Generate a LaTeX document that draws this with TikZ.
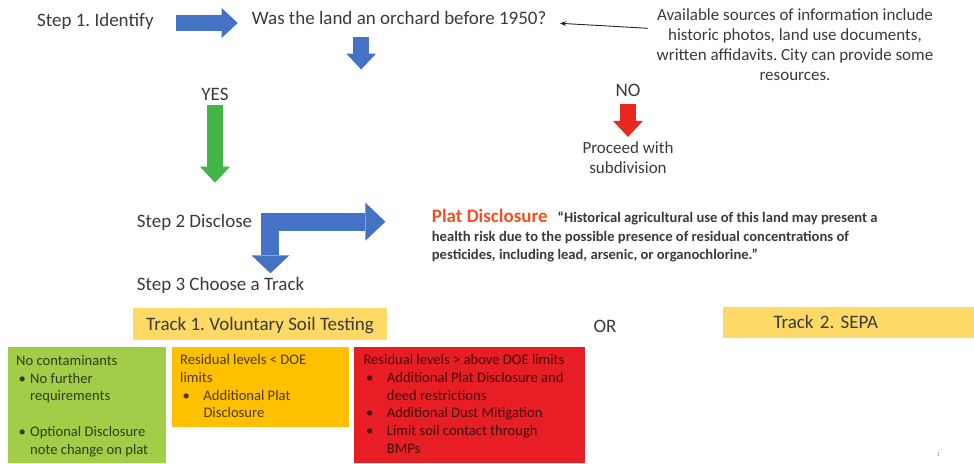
\documentclass[tikz,border=0pt]{standalone}
\usepackage{fontspec}
\setmainfont{Carlito}
\usepackage{xcolor}
\usetikzlibrary{arrows.meta, positioning}
\frenchspacing

\definecolor{inkgray}{HTML}{3A3A3A}
\definecolor{arrowblue}{HTML}{4472C4}
\definecolor{arrowgreen}{HTML}{44B549}
\definecolor{arrowred}{HTML}{E8271F}
\definecolor{trackyellow}{HTML}{FFD966}
\definecolor{boxgreen}{HTML}{A2CD48}
\definecolor{boxamber}{HTML}{FFC000}
\definecolor{boxred}{HTML}{E81E25}
\definecolor{platred}{HTML}{F25022}

\newcommand{\largetxt}{\fontsize{19pt}{23pt}\selectfont}
\newcommand{\notetxt}{\fontsize{17pt}{20pt}\selectfont}
\newcommand{\boxtxt}{\fontsize{14.6pt}{17.7pt}\selectfont}
\newcommand{\bitem}[1]{\hspace*{2.5pt}\makebox[#1][l]{\textbullet}}

\tikzset{
    x=1pt, y=-1pt, % one unit is one pixel, y runs down
    steptext/.style={font=\largetxt, text=inkgray, inner sep=0pt, text height=16.5pt, text depth=4.5pt},
    notetext/.style={font=\notetxt, text=inkgray, align=center, inner sep=0pt},
    trackbox/.style={fill=trackyellow, font=\largetxt, text=inkgray, minimum height=31.7pt, text height=16.5pt, text depth=4.5pt}, % yellow track headers
    area/.style={anchor=north west, inner sep=0pt}, % coloured result boxes
    areatext/.style={font=\boxtxt, align=left, inner sep=0pt},
    fatarrow/.style={draw=#1, line width=15.5pt, -{Triangle[length=16pt, width=30pt, line width=0pt]}}, % block arrows
    bentarrow/.style={draw=arrowblue, line width=18pt, {Triangle[length=20pt, width=38pt, line width=0pt]}-{Triangle[length=18pt, width=38pt, line width=0pt]}},
}
\tikzstyle{note} = [draw=black!85, line width=0.9pt, -{Stealth[length=6pt, width=5pt]}]

\begin{document}
\begin{tikzpicture}
    \useasboundingbox (0,0) rectangle (974,463);

    % step 1
    \node[steptext, anchor=west] (step1) at (37,21) {Step 1. Identify};
    \node[steptext, anchor=west] (question) at (251.7,18.5) {Was the land an orchard before 1950?};
    \node[notetext] (sources) at (795,45) {Available sources of information include\\historic photos, land use documents,\\written affidavits. City can provide some\\resources.};

    \draw[fatarrow=arrowblue] ([xshift=22pt,yshift=-2pt]step1.east) -- ([xshift=-14pt,yshift=-4.5pt]question.west);
    \draw[fatarrow=arrowblue] ([xshift=-38pt,yshift=-7.7pt]question.south) -- ++(0,32.6);
    \draw[note] ([xshift=-8.7pt,yshift=16.7pt]sources.west) -- ([xshift=13.4pt,yshift=-4.8pt]question.east);

    % answers
    \node[steptext] (yes) at (215,94) {YES};
    \node[steptext] (no) at (628,90) {NO};
    \node[notetext] (proceed) [below=41pt of no] {Proceed with\\subdivision};

    \draw[fatarrow=arrowgreen] (yes.south) -- ++(0,78);
    \draw[fatarrow=arrowred] ([yshift=-2.8pt]no.south) -- ++(0,33.4);

    % steps 2 and 3
    \node[steptext, anchor=west] (step2) at (136.7,221.7) {Step 2 Disclose};
    \node[steptext, anchor=west] (step3) at (136.7,284) {Step 3 Choose a Track};
    \node[areatext, font=\bfseries\fontsize{14.6pt}{17.8pt}\selectfont, text=inkgray, anchor=west] (plat) at (431.7,235.4)
        {{\fontsize{19pt}{17.8pt}\selectfont\color{platred}Plat Disclosure}\hspace{10pt}“Historical agricultural use of this land may present a\\[2pt]health risk due to the possible presence of residual concentrations of\\pesticides, including lead, arsenic, or organochlorine.”};

    \coordinate (bend) at ([xshift=18pt]step2.east);
    \draw[bentarrow] ([xshift=133pt]step2.east) -- (bend) -- (bend |- step3.north);

    % tracks
    \node[trackbox, minimum width=253.4pt] (track1) at (260,324) {Track 1. Voluntary Soil Testing};
    \node[steptext] (or) at (605,326.7) {OR};
    \node[trackbox, anchor=west, minimum width=251.3pt, text width=251.3pt, inner xsep=0pt, align=left] (track2) at (722.7,322.5) {\hspace*{50.6pt}Track 2. SEPA};

    \node[area, fill=boxgreen, minimum width=158.7pt, minimum height=116.3pt] (nobox) at (7.3,346.7) {};
    \node[area, fill=boxamber, minimum width=176.6pt, minimum height=80pt] (lowbox) at (171.7,346.7) {};
    \node[area, fill=boxred, minimum width=231pt, minimum height=116.3pt] (highbox) at (353.3,346.7) {};

    \node[areatext, text=black!70!boxgreen] (nolist) [below right=8.6pt and 8.7pt of nobox.north west]
        {No contaminants\\\bitem{11.5pt}No further\\\hspace*{14pt}requirements\\[17.7pt]\bitem{11.5pt}Optional Disclosure\\\hspace*{14pt}note change on plat};
    \node[areatext, text=black!70!boxamber] (lowlist) [below right=7.8pt and 8.3pt of lowbox.north west]
        {Residual levels < DOE\\limits\\\bitem{20.8pt}Additional Plat\\\hspace*{23.3pt}Disclosure};
    \node[areatext, text=black!70!boxred] (highlist) [below right=7.8pt and 10pt of highbox.north west]
        {Residual levels > above DOE limits\\\bitem{20.9pt}Additional Plat Disclosure and\\\hspace*{23.4pt}deed restrictions\\\bitem{20.9pt}Additional Dust Mitigation\\\bitem{20.9pt}Limit soil contact through\\\hspace*{23.4pt}BMPs};

    \node[font=\fontsize{6pt}{7pt}\selectfont, text=gray] (pagenum) at (938.3,455) {1};
\end{tikzpicture}
\end{document}
